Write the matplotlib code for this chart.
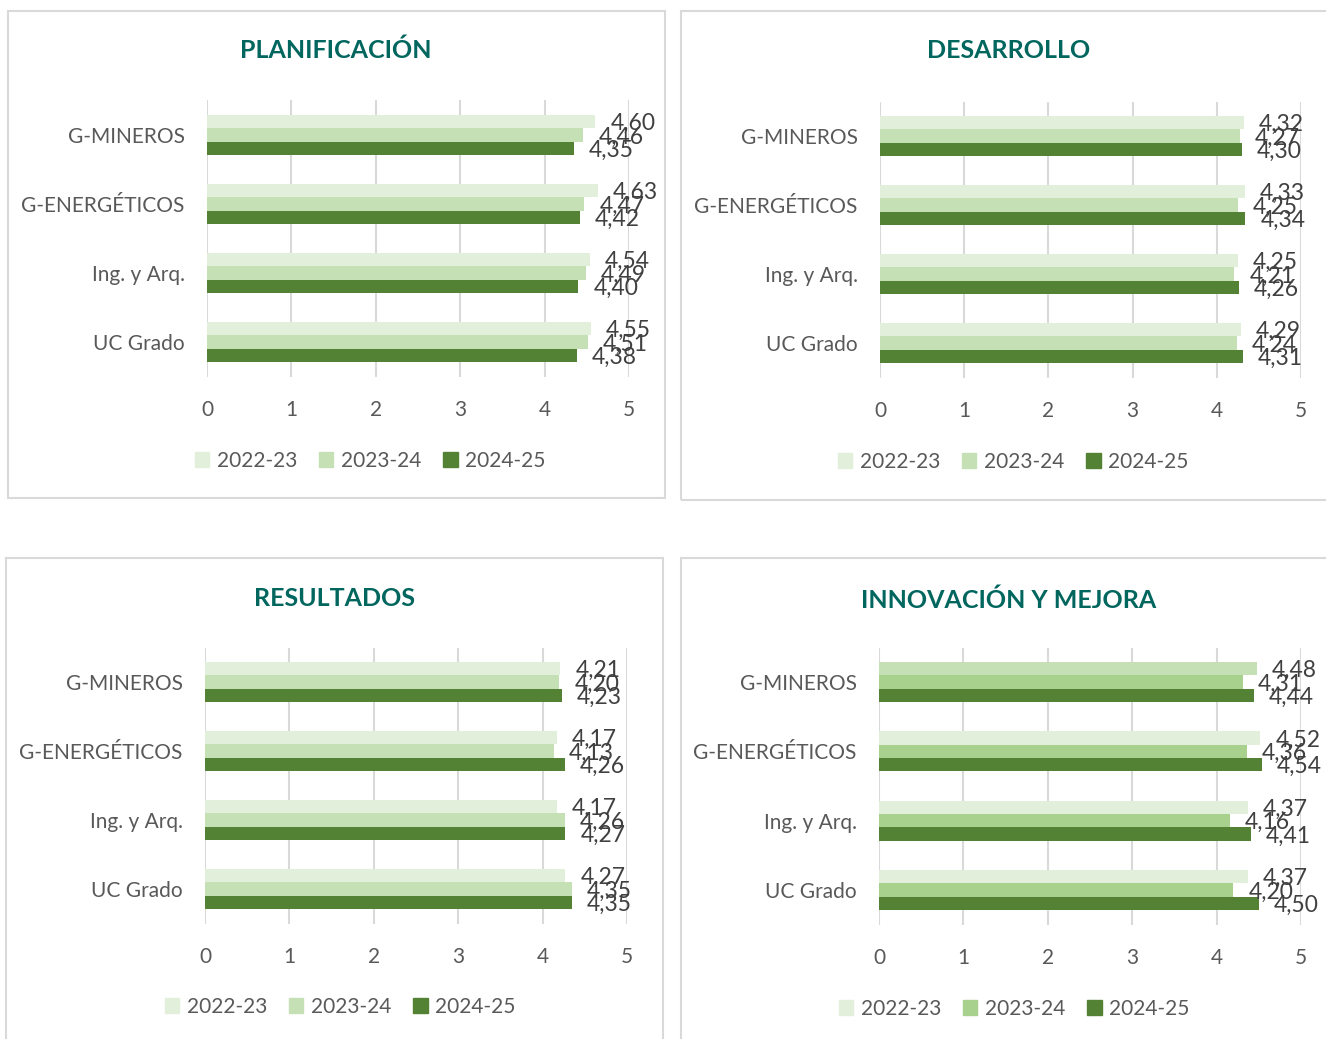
import matplotlib
matplotlib.use("Agg")
import matplotlib.pyplot as plt
from matplotlib.patches import Rectangle, Patch

plt.rcParams['font.family'] = ['Lato', 'DejaVu Sans']

# data
categories = ["G-MINEROS", "G-ENERGÉTICOS", "Ing. y Arq.", "UC Grado"]
years = ["2022-23", "2023-24", "2024-25"]

plan_2223 = [4.60, 4.63, 4.54, 4.55]
plan_2324 = [4.46, 4.47, 4.49, 4.51]
plan_2425 = [4.35, 4.42, 4.40, 4.38]

des_2223 = [4.32, 4.33, 4.25, 4.29]
des_2324 = [4.27, 4.25, 4.21, 4.24]
des_2425 = [4.30, 4.34, 4.26, 4.31]

res_2223 = [4.21, 4.17, 4.17, 4.27]
res_2324 = [4.20, 4.13, 4.26, 4.35]
res_2425 = [4.23, 4.26, 4.27, 4.35]

inn_2223 = [4.48, 4.52, 4.37, 4.37]
inn_2324 = [4.31, 4.36, 4.16, 4.20]
inn_2425 = [4.44, 4.54, 4.41, 4.50]

W, H = 1326, 1039
TITLE_COLOR = "#00665E"
TEXT_COLOR = "#595959"
LABEL_COLOR = "#404040"
C1, C2, C3 = "#E2EFDA", "#C5E0B4", "#548235"
C2_INN = "#A9D18E"

fig = plt.figure(figsize=(W / 100, H / 100), dpi=100)


def px_rect(x0, y0, x1, y1):
    return [x0 / W, 1 - y1 / H, (x1 - x0) / W, (y1 - y0) / H]


def draw_panel(title, s1, s2, s3, border, axbox, title_xy, legend_xy, colors1, c2):
    bx = px_rect(*border)
    fig.patches.append(Rectangle((bx[0], bx[1]), bx[2], bx[3], transform=fig.transFigure,
                                 fill=False, edgecolor="#D9D9D9", linewidth=1.5))
    ax = fig.add_axes(px_rect(*axbox))
    h = 0.193
    pos = list(range(len(categories)))
    series = [(s1, colors1, -h), (s2, [c2] * 4, 0), (s3, [C3] * 4, h)]
    for vals, cols, off in series:
        ys = [p + off for p in pos]
        ax.barh(ys, vals, height=h, color=cols, zorder=2)
        for y, v in zip(ys, vals):
            ax.annotate(f"{v:.2f}".replace(".", ","), (v, y), xytext=(15, -2),
                        textcoords="offset pixels", va="center", ha="left",
                        fontsize=16.5, color=LABEL_COLOR)
    ax.set_xlim(0, 5)
    ax.set_ylim(3.5, -0.5)
    ax.set_xticks(range(6))
    ax.set_yticks(pos)
    ax.set_yticklabels(categories)
    ax.grid(axis="x", color="#D9D9D9", linewidth=1.5, zorder=0)
    ax.set_axisbelow(True)
    for sp in ax.spines.values():
        sp.set_visible(False)
    ax.tick_params(axis="both", length=0, labelsize=15, labelcolor=TEXT_COLOR)
    ax.tick_params(axis="x", pad=17)
    ax.tick_params(axis="y", pad=16)
    fig.text(title_xy[0] / W, 1 - title_xy[1] / H, title, ha="center", va="center",
             fontsize=18, fontweight="bold", color=TITLE_COLOR)
    handles = [Patch(color=C1), Patch(color=c2), Patch(color=C3)]
    fig.legend(handles, years, loc="center", ncol=3, frameon=False,
               bbox_to_anchor=(legend_xy[0] / W, 1 - legend_xy[1] / H),
               fontsize=15, labelcolor=TEXT_COLOR, handlelength=0.7, handleheight=0.7,
               handletextpad=0.35, columnspacing=1.05)


draw_panel("PLANIFICACIÓN", plan_2223, plan_2324, plan_2425,
           (8, 11, 665, 498), (207, 100.5, 629, 376.5), (336, 50), (370, 461),
           [C1] * 4, C2)
draw_panel("DESARROLLO", des_2223, des_2324, des_2425,
           (681, 11, 1345, 500), (880, 101.5, 1301, 377.5), (1009, 51), (1013, 462),
           [C1] * 4, C2)
draw_panel("RESULTADOS", res_2223, res_2324, res_2425,
           (6, 558, 663, 1050), (205, 647.5, 627, 923.5), (335, 599), (340, 1007),
           [C1] * 4, C2)
draw_panel("INNOVACIÓN Y MEJORA", inn_2223, inn_2324, inn_2425,
           (681, 558, 1345, 1050), (879, 647.5, 1301, 924.5), (1009, 600), (1014, 1009),
           [C2, C1, C1, C1], C2_INN)

fig.savefig("out.png", dpi=100)
